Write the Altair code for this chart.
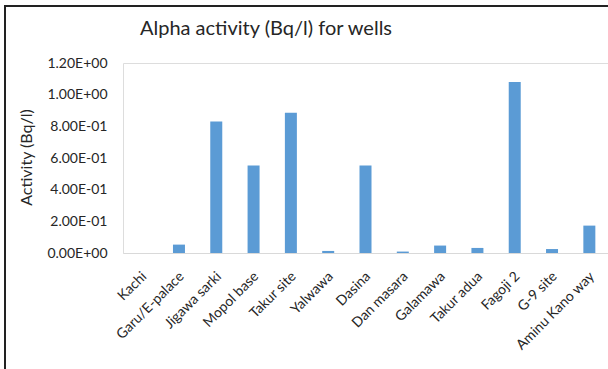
import altair as alt
import pandas as pd

sites = ["Kachi", "Garu/E-palace", "Jigawa sarki", "Mopol base", "Takur site", "Yalwawa",
         "Dasina", "Dan masara", "Galamawa", "Takur adua", "Fagoji 2", "G-9 site", "Aminu Kano way"]
activity = [0.0, 0.053, 0.83, 0.553, 0.886, 0.013, 0.553, 0.009, 0.047, 0.032, 1.08, 0.025, 0.173]

y_ticks = [0.0, 0.2, 0.4, 0.6, 0.8, 1.0, 1.2]
y_labels = ["0.00E+00", "2.00E-01", "4.00E-01", "6.00E-01", "8.00E-01", "1.00E+00", "1.20E+00"]

title_text = "Alpha activity (Bq/l) for wells"

df = pd.DataFrame({"site": sites, "activity": activity})

label_expr = "[" + ",".join("'" + s + "'" for s in y_labels) + "][round(datum.value / 0.2)]"

FONT = "Lato"
TXT = "#262626"

bars = alt.Chart(df).mark_bar(color="#5B9BD5", size=12).encode(
    x=alt.X("site:N", sort=None, title=None,
            axis=alt.Axis(labelAngle=-45, labelAlign="right", labelBaseline="top",
                          labelFont=FONT, labelFontSize=14, labelColor=TXT,
                          labelPadding=16, labelOffset=-2, ticks=False, domainColor="#D9D9D9",
                          domainWidth=1, labelOverlap=False),
            scale=alt.Scale(paddingInner=0, paddingOuter=0)),
    y=alt.Y("activity:Q", title="Activity (Bq/l)",
            scale=alt.Scale(domain=[0, 1.2], nice=False),
            axis=alt.Axis(values=y_ticks, labelExpr=label_expr, grid=False, domain=False,
                          ticks=False, labelFont=FONT, labelFontSize=14,
                          labelColor=TXT, labelPadding=16,
                          titleFont=FONT, titleFontSize=16, titleFontWeight="normal",
                          titleColor=TXT, titleX=-97, titleY=94,
                          titleAlign="center", titleBaseline="middle")),
)

title = alt.Chart(pd.DataFrame({"t": [title_text]})).mark_text(
    font=FONT, fontSize=20, color=TXT, align="center", baseline="alphabetic"
).encode(text="t:N", x=alt.value(143), y=alt.value(-28))

border_top = alt.Chart(df).mark_rule(color="#222222", strokeWidth=2).encode(
    x=alt.value(-118), x2=alt.value(490), y=alt.value(-57)
)
border_left = alt.Chart(df).mark_rule(color="#222222", strokeWidth=2).encode(
    x=alt.value(-118), y=alt.value(-58), y2=alt.value(310)
)

chart = alt.layer(bars, title, border_top, border_left).properties(
    width=485, height=190,
    autosize="none",
    padding={"left": 123, "top": 63, "right": 0, "bottom": 116},
).configure_view(stroke=None).configure(background="white")

chart.save("out.html", embed_options={"renderer": "svg", "actions": False})
